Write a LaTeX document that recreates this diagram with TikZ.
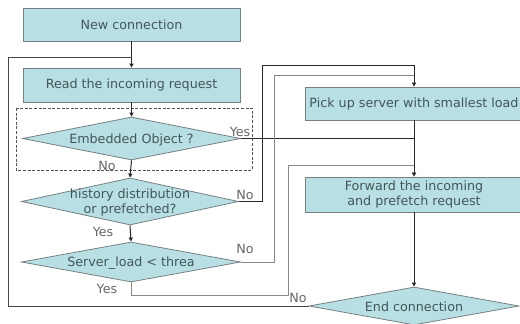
\documentclass[tikz,border=0pt]{standalone}
\usepackage{fontspec}
\setmainfont{DejaVu Sans}
\usetikzlibrary{shapes.geometric,arrows.meta}
\definecolor{boxfill}{RGB}{184,224,228}
\definecolor{boxline}{RGB}{118,128,130}
\definecolor{txt}{RGB}{66,86,90}
\definecolor{lbl}{RGB}{100,104,104}
\definecolor{lgray}{RGB}{135,135,135}
\definecolor{dline}{RGB}{40,40,40}
\begin{document}
\begin{tikzpicture}[x=1pt,y=-1pt,
  font=\fontsize{12.7}{15}\selectfont,
  procbox/.style={draw=boxline, fill=boxfill, line width=0.8pt, inner sep=0pt, text=txt, align=center},
  decision/.style={diamond, draw=boxline, fill=boxfill, line width=0.8pt, inner sep=0pt},
  dtext/.style={text=txt, align=center, inner sep=0pt},
  lab/.style={text=lbl, inner sep=0pt},
  link/.style={draw=dline, line width=1pt},
  glink/.style={draw=lgray, line width=1pt},
  arr/.style={-{Triangle[length=4pt,width=4pt]}}
]
\useasboundingbox (0,0) rectangle (520,324);
\fill[white] (0,0) rectangle (520,324);

% boxes
\node[procbox, minimum width=217pt, minimum height=33pt] (new) at (131.5,24.5) {New connection};
\node[procbox, minimum width=217pt, minimum height=34pt] (read) at (131.5,85) {Read the incoming request};
\node[procbox, minimum width=218pt, minimum height=33pt] (pick) at (414,103.5) {Pick up server with smallest load};
\node[procbox, minimum width=218pt, minimum height=35pt] (fwd) at (414,194.5) {Forward the incoming\\and prefetch request};

% decisions
\node[decision, minimum width=218pt, minimum height=43pt] (emb) at (131.5,138.5) {};
\node[dtext] (embt) at (131.5,140) {Embedded Object ?};
\node[decision, minimum width=217pt, minimum height=47pt] (hist) at (130,201.5) {};
\node[dtext] (histt) at (130,202) {history distribution\\or prefetched?};
\node[decision, minimum width=219pt, minimum height=40pt] (srv) at (131,262) {};
\node[dtext] (srvt) at (131,263) {Server\_load < threa};
\node[decision, minimum width=210pt, minimum height=38pt] (endc) at (414,306) {};
\node[dtext] (endt) at (414,307) {End connection};

% dashed frame
\draw[draw=dline!80, line width=0.9pt, dash pattern=on 3pt off 1.6pt] (16,108) rectangle (252,170);

% junction coordinates
\coordinate (lp) at (131.5,57);
\coordinate (j1) at (414,75);

% connectors
\draw[link, arr] (new.south) -- (read.north);
\draw[link, arr] (read.south) -- (emb.north);
\draw[link, arr] (emb.south) -- (hist.north);
\draw[link, arr] (hist.south) -- (srv.north);
\draw[link] (emb.east) -- (emb.east -| pick.south);
\draw[link, arr] (hist.east) -- (262,201.5) -- (262,65) -| (pick.north);
\draw[glink] (srv.east) -- (274,262) |- (j1);
\draw[glink, arr] (srv.south) |- (288,295) -- (288,165) -| (fwd.north);
\draw[link, arr] (pick.south) -- (fwd.north);
\draw[link, arr] (fwd.south) -- (endc.north);
\draw[link, draw=dline!85] (endc.west) -- (8,306) -- (8,57) -- (lp);

% labels
\node[lab] (l1) at (240,132) {Yes};
\node[lab] (l2) at (107,166) {No};
\node[lab] (l3) at (245,195) {No};
\node[lab] (l4) at (103,232) {Yes};
\node[lab] (l5) at (245,249) {No};
\node[lab] (l6) at (107,289) {Yes};
\node[lab] (l7) at (298,298) {No};
\end{tikzpicture}
\end{document}
